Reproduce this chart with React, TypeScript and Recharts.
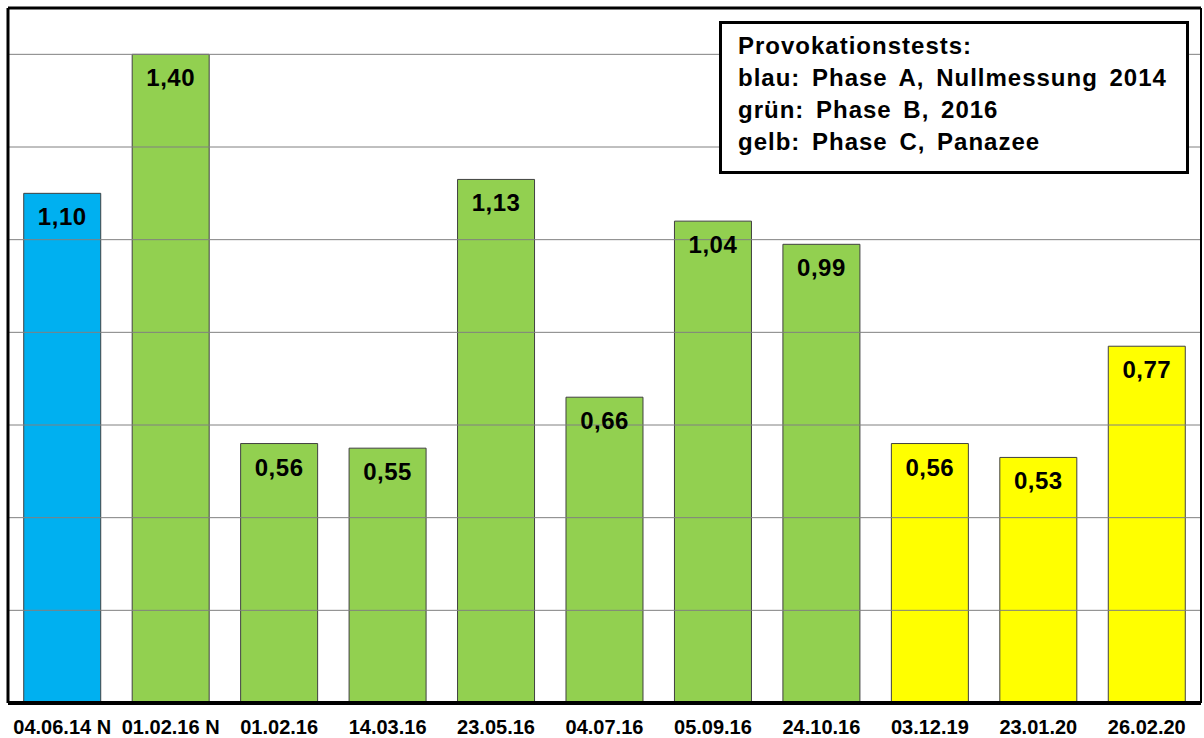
import React from 'react';
import {
  BarChart,
  Bar,
  Cell,
  XAxis,
  YAxis,
  ReferenceLine,
  LabelList,
} from 'recharts';

// test dates (x categories)
const DATES = [
  '04.06.14 N',
  '01.02.16 N',
  '01.02.16',
  '14.03.16',
  '23.05.16',
  '04.07.16',
  '05.09.16',
  '24.10.16',
  '03.12.19',
  '23.01.20',
  '26.02.20',
];

// measured values
const VALUES = [1.1, 1.4, 0.56, 0.55, 1.13, 0.66, 1.04, 0.99, 0.56, 0.53, 0.77];

// phase of each test: A = blue, B = green, C = yellow
const PHASES = ['A', 'B', 'B', 'B', 'B', 'B', 'B', 'B', 'C', 'C', 'C'];

// horizontal grid lines
const Y_TICKS = [0.2, 0.4, 0.6, 0.8, 1.0, 1.2, 1.4];

const LEGEND_LINES = [
  'Provokationstests:',
  'blau: Phase A, Nullmessung 2014',
  'grün: Phase B, 2016',
  'gelb: Phase C, Panazee',
];

const PHASE_COLORS: Record<string, string> = {
  A: '#00B0F0',
  B: '#92D050',
  C: '#FFFF00',
};

const FONT = '"Liberation Sans", Arial, sans-serif';

const data = DATES.map((date, i) => ({ date, value: VALUES[i], phase: PHASES[i] }));

// value printed inside the top of the bar, german decimal comma
const ValueLabel = (props: any) => {
  const { x, y, width, value } = props;
  return (
    <text
      x={x + width / 2}
      y={y + 32}
      textAnchor="middle"
      fontFamily={FONT}
      fontWeight="bold"
      fontSize={24}
      letterSpacing={0.5}
      fill="#000"
    >
      {Number(value).toFixed(2).replace('.', ',')}
    </text>
  );
};

const DateTick = (props: any) => {
  const { x, y, payload } = props;
  return (
    <text
      x={x}
      y={y + 29}
      textAnchor="middle"
      fontFamily={FONT}
      fontWeight="bold"
      fontSize={20}
      fill="#000"
    >
      {payload.value}
    </text>
  );
};

export default function App() {
  return (
    <div style={{ position: 'absolute', left: 0, top: 0, width: 1204, height: 738, background: '#fff' }}>
      <BarChart
        width={1204}
        height={738}
        data={data}
        margin={{ top: 8, right: 2, bottom: 0, left: 7 }}
        barCategoryGap="14.5%"
      >
        {/* grid lines */}
        {Y_TICKS.map((t) => (
          <ReferenceLine key={`grid-${t}`} y={t} stroke="#808080" strokeWidth={1} />
        ))}
        <XAxis
          dataKey="date"
          height={35}
          axisLine={{ stroke: '#000', strokeWidth: 4 }}
          tickLine={false}
          tickSize={0}
          tick={<DateTick />}
          interval={0}
        />
        <YAxis
          domain={[0, 1.5]}
          width={1}
          tick={false}
          tickLine={false}
          axisLine={{ stroke: '#000', strokeWidth: 3 }}
        />
        <YAxis
          yAxisId="right"
          orientation="right"
          domain={[0, 1.5]}
          width={1}
          tick={false}
          tickLine={false}
          axisLine={{ stroke: '#000', strokeWidth: 2 }}
        />
        <ReferenceLine y={1.5} stroke="#000" strokeWidth={3} />
        <Bar dataKey="value" stroke="#404040" strokeWidth={1} isAnimationActive={false}>
          {data.map((entry, index) => (
            <Cell key={`cell-${index}`} fill={PHASE_COLORS[entry.phase]} />
          ))}
          <LabelList dataKey="value" content={<ValueLabel />} />
        </Bar>
      </BarChart>

      {/* legend box */}
      <div
        style={{
          position: 'absolute',
          left: 719,
          top: 21,
          width: 448,
          height: 141,
          border: '3px solid #000',
          background: '#fff',
          padding: '6px 0 0 16px',
          boxSizing: 'content-box',
          fontFamily: FONT,
          fontWeight: 'bold',
          fontSize: 24,
          lineHeight: '32px',
          letterSpacing: 1,
          wordSpacing: 4,
          color: '#000',
          whiteSpace: 'nowrap',
        }}
      >
        {LEGEND_LINES.map((line, i) => (
          <div key={i}>{line}</div>
        ))}
      </div>
    </div>
  );
}
